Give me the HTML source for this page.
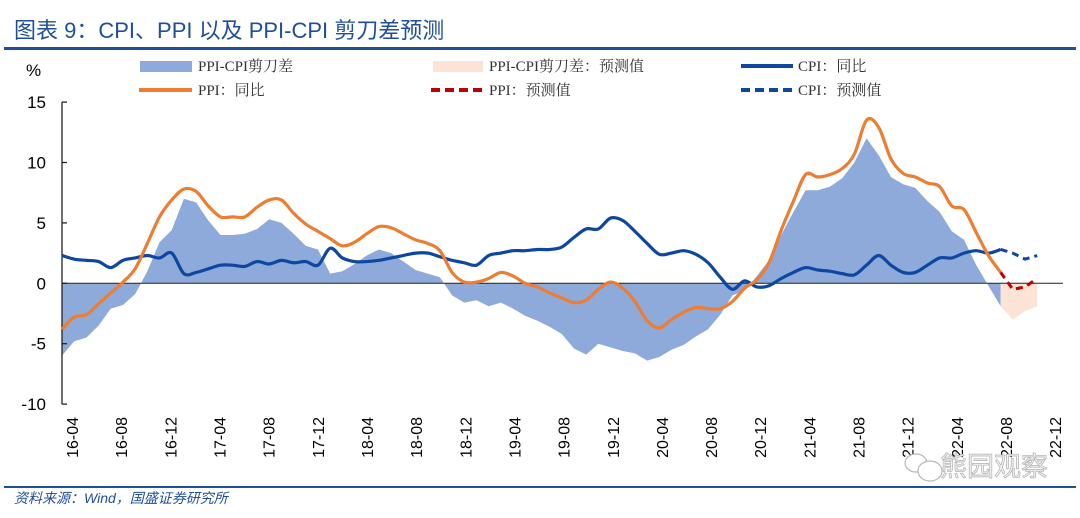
<!DOCTYPE html>
<html><head><meta charset="utf-8">
<style>
body{margin:0;background:#fff;width:1080px;height:518px;overflow:hidden;font-family:"Liberation Sans","Noto Sans CJK SC",sans-serif;}
svg{display:block}
</style></head>
<body>
<svg width="1080" height="518" viewBox="0 0 1080 518">
<text x="14" y="38" font-size="22" fill="#1f4e9b" font-family="Liberation Sans,Noto Sans CJK SC,sans-serif">图表 9：CPI、PPI 以及 PPI-CPI 剪刀差预测</text>
<rect x="4" y="47" width="1072" height="3" fill="#1f4e9b"/>
<text x="26" y="76" font-size="17" fill="#000">%</text>
<g id="legend" font-family="Liberation Serif,Noto Serif CJK SC,serif" font-size="15" fill="#333">
 <g><rect x="140" y="61" width="52" height="11" fill="#8eaadb"/><text x="198" y="71">PPI-CPI剪刀差</text></g>
 <g><rect x="433" y="61" width="50" height="11" fill="#fbe4d5"/><text x="489" y="71">PPI-CPI剪刀差：预测值</text></g>
 <g><line x1="741" y1="66" x2="793" y2="66" stroke="#0d47a1" stroke-width="4"/><text x="798" y="71">CPI：同比</text></g>
 <g><line x1="139" y1="90" x2="192" y2="90" stroke="#ed7d31" stroke-width="4"/><text x="198" y="95">PPI：同比</text></g>
 <g><line x1="431" y1="90" x2="483" y2="90" stroke="#c00000" stroke-width="4" stroke-dasharray="9,5"/><text x="489" y="95">PPI：预测值</text></g>
 <g><line x1="741" y1="90" x2="793" y2="90" stroke="#0d47a1" stroke-width="4" stroke-dasharray="9,5"/><text x="798" y="95">CPI：预测值</text></g>
</g>
<g id="plot"></g>
<rect x="4" y="486" width="1072" height="2" fill="#1f4e9b"/>
<text x="14" y="503" font-size="14" font-style="italic" fill="#1f4e9b">资料来源：Wind，国盛证券研究所</text>
<text x="940" y="476" font-size="27" fill="#f2f2f2" stroke="#b0b0b0" stroke-width="0.7">熊园观察</text>
<g fill="#fff" stroke="#b8b8b8" stroke-width="1.2"><ellipse cx="916" cy="463" rx="11" ry="9"/><ellipse cx="930" cy="471" rx="12" ry="10"/></g>
</svg>
<script>
const months=["16-04","16-05","16-06","16-07","16-08","16-09","16-10","16-11","16-12","17-01","17-02","17-03","17-04","17-05","17-06","17-07","17-08","17-09","17-10","17-11","17-12","18-01","18-02","18-03","18-04","18-05","18-06","18-07","18-08","18-09","18-10","18-11","18-12","19-01","19-02","19-03","19-04","19-05","19-06","19-07","19-08","19-09","19-10","19-11","19-12","20-01","20-02","20-03","20-04","20-05","20-06","20-07","20-08","20-09","20-10","20-11","20-12","21-01","21-02","21-03","21-04","21-05","21-06","21-07","21-08","21-09","21-10","21-11","21-12","22-01","22-02","22-03","22-04","22-05","22-06","22-07","22-08","22-09","22-10","22-11","22-12"];
const ppi=[-3.8,-2.8,-2.6,-1.7,-0.8,0.1,1.2,3.3,5.5,6.9,7.8,7.6,6.4,5.5,5.5,5.5,6.3,6.9,6.9,5.8,4.9,4.3,3.7,3.1,3.4,4.1,4.7,4.6,4.1,3.6,3.3,2.7,0.9,0.1,0.1,0.4,0.9,0.6,0.0,-0.3,-0.8,-1.2,-1.6,-1.4,-0.5,0.1,-0.4,-1.5,-3.1,-3.7,-3.0,-2.4,-2.0,-2.1,-2.1,-1.5,-0.4,0.3,1.7,4.4,6.8,9.0,8.8,9.0,9.5,10.7,13.5,12.9,10.3,9.1,8.8,8.3,8.0,6.4,6.1,4.2,2.3,0.9];
const cpi=[2.3,2.0,1.9,1.8,1.3,1.9,2.1,2.3,2.1,2.5,0.8,0.9,1.2,1.5,1.5,1.4,1.8,1.6,1.9,1.7,1.8,1.5,2.9,2.1,1.8,1.8,1.9,2.1,2.3,2.5,2.5,2.2,1.9,1.7,1.5,2.3,2.5,2.7,2.7,2.8,2.8,3.0,3.8,4.5,4.5,5.4,5.2,4.3,3.3,2.4,2.5,2.7,2.4,1.7,0.5,-0.5,0.2,-0.3,-0.2,0.4,0.9,1.3,1.1,1.0,0.8,0.7,1.5,2.3,1.5,0.9,0.9,1.5,2.1,2.1,2.5,2.7,2.5,2.8];
const spread=[-6.0,-4.8,-4.5,-3.5,-2.1,-1.8,-0.9,1.0,3.4,4.4,7.0,6.7,5.2,4.0,4.0,4.1,4.5,5.3,5.0,4.1,3.1,2.8,0.8,1.0,1.6,2.3,2.8,2.5,1.8,1.1,0.8,0.5,-1.0,-1.6,-1.4,-1.9,-1.6,-2.1,-2.7,-3.1,-3.6,-4.2,-5.4,-5.9,-5.0,-5.3,-5.6,-5.8,-6.4,-6.1,-5.5,-5.1,-4.4,-3.8,-2.6,-1.0,-0.6,0.6,1.9,4.0,5.9,7.7,7.7,8.0,8.7,10.0,12.0,10.6,8.8,8.2,7.9,6.8,5.9,4.3,3.6,1.5,-0.2,-1.9];
const ppiForecast=[0.9,-0.5,-0.3,0.4];
const cpiForecast=[2.8,2.5,2.0,2.3];
const spreadForecast=[-1.9,-3.0,-2.3,-1.9];
const forecastStart=77;
const yTicks=[15,10,5,0,-5,-10];
const xLabelEvery=4;

const NS="http://www.w3.org/2000/svg";
const plot=document.getElementById('plot');
const X0=62,DX=12.19,Y0=283.3,DY=12.08;
const xs=i=>X0+i*DX;
const ys=v=>Y0-v*DY;
function el(t,a){const e=document.createElementNS(NS,t);for(const k in a)e.setAttribute(k,a[k]);plot.appendChild(e);return e;}
function smooth(pts){let d=`M${pts[0][0]},${pts[0][1]}`;for(let i=0;i<pts.length-1;i++){const p0=pts[i-1]||pts[i],p1=pts[i],p2=pts[i+1],p3=pts[i+2]||p2;const t=6;d+=` C${p1[0]+(p2[0]-p0[0])/t},${p1[1]+(p2[1]-p0[1])/t} ${p2[0]-(p3[0]-p1[0])/t},${p2[1]-(p3[1]-p1[1])/t} ${p2[0]},${p2[1]}`;}return d;}
function area(vals,start){let d=`M${xs(start)},${ys(0)}`;vals.forEach((v,i)=>d+=` L${xs(start+i)},${ys(v)}`);d+=` L${xs(start+vals.length-1)},${ys(0)} Z`;return d;}
let e;
e=el('path',{d:area(spread,0),fill:'#8eaadb'});


e=el('path',{d:area(spreadForecast,forecastStart),fill:'#fbe4d5'});


e=el('line',{x1:X0,y1:ys(0),x2:1063,y2:ys(0),stroke:'#222','stroke-width':1});


e=el('line',{x1:X0,y1:ys(15),x2:X0,y2:ys(-10),stroke:'#222','stroke-width':1.3});


yTicks.forEach(v=>{
 const t=el('line',{x1:X0,y1:ys(v),x2:X0+5,y2:ys(v),stroke:'#222','stroke-width':1.3});
 
 
 const l=el('text',{x:X0-16,y:ys(v)+6,'font-size':17,'text-anchor':'end',fill:'#000'});
 l.textContent=v;
 
 
});
const ppiPts=ppi.map((v,i)=>[xs(i),ys(v)]),cpiPts=cpi.map((v,i)=>[xs(i),ys(v)]);
e=el('path',{d:smooth(cpiPts),fill:'none',stroke:'#0d47a1','stroke-width':3.2});


e=el('path',{d:smooth(ppiPts),fill:'none',stroke:'#ed7d31','stroke-width':3.2});


e=el('polyline',{points:cpiForecast.map((v,i)=>xs(forecastStart+i)+','+ys(v)).join(' '),fill:'none',stroke:'#0d47a1','stroke-width':3,'stroke-dasharray':'7,5'});


e=el('polyline',{points:ppiForecast.map((v,i)=>xs(forecastStart+i)+','+ys(v)).join(' '),fill:'none',stroke:'#c00000','stroke-width':3,'stroke-dasharray':'7,5'});


months.forEach((m,i)=>{
 if(i%xLabelEvery)return;
 const x=72+i*12.29;
 const t=el('text',{x:0,y:0,'font-size':16,'text-anchor':'end',fill:'#000',transform:`translate(${x+6},417) rotate(-90)`});
 t.textContent=m;
 
 
});
</script>
</body></html>
